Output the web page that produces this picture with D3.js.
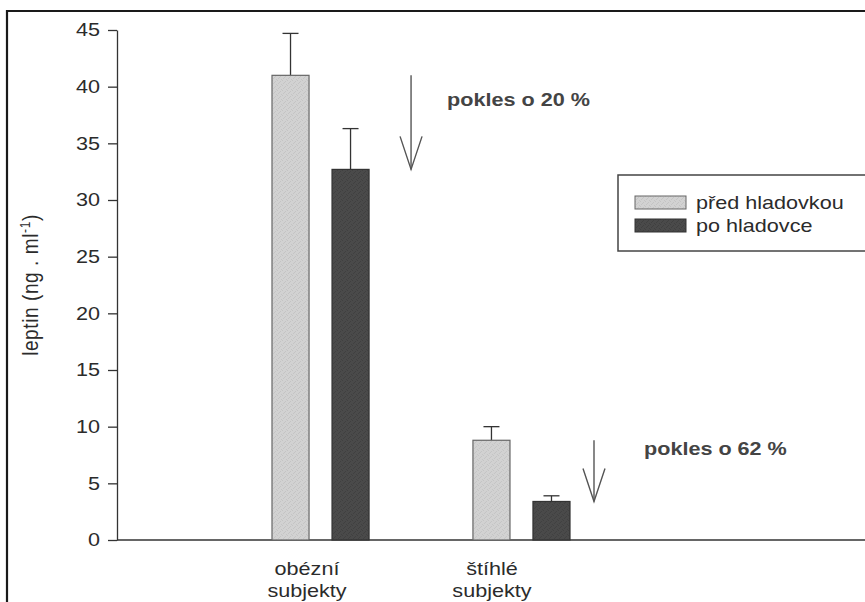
<!DOCTYPE html>
<html>
<head>
<meta charset="utf-8">
<script src="https://cdn.jsdelivr.net/npm/d3@7"></script>
<style>
  body { margin: 0; background: #fff; }
  svg { display: block; font-family: "Liberation Sans", Arial, sans-serif; }
</style>
</head>
<body>
<div id="chart"></div>
<script>
// Data
const categories = ['obézní subjekty', 'štíhlé subjekty'];
const categoryLines = [['obézní', 'subjekty'], ['štíhlé', 'subjekty']];
const seriesNames = ['před hladovkou', 'po hladovce'];
const beforeValues = [41.0, 8.8];
const afterValues = [32.7, 3.4];
const beforeErrTop = [44.7, 10.0];
const afterErrTop = [36.3, 3.9];
const dropLabels = ['pokles o 20 %', 'pokles o 62 %'];
const yTicks = [0, 5, 10, 15, 20, 25, 30, 35, 40, 45];

// layout (the scan is stretched horizontally, so text gets a x-scale)
const W = 865, H = 602;
const SX = 1.2;
const fontSize = 18;
const textColor = '#2b2b2b';
const labelShift = [35, 19];     // category label offset from group start
const arrowShift = [42, 24];     // arrow offset from group end
const noteShift = [[36, 31], [50, 15]];

const svg = d3.select('#chart').append('svg')
    .attr('width', W).attr('height', H);

// textures for the bars
const defs = svg.append('defs');
function texture(id, base, dots) {
    const p = defs.append('pattern').attr('id', id)
        .attr('width', 5).attr('height', 5).attr('patternUnits', 'userSpaceOnUse');
    p.append('rect').attr('width', 5).attr('height', 5).attr('fill', base);
    [[0, 0], [3, 1], [1, 3], [4, 4], [2, 2]].forEach(([x, y]) => {
        p.append('rect').attr('x', x).attr('y', y).attr('width', 1).attr('height', 1).attr('fill', dots);
    });
}
texture('texLight', '#d2d2d2', '#c4c4c4');
texture('texDark', '#4a4a4a', '#404040');

const fills = ['url(#texLight)', 'url(#texDark)'];
const strokes = ['#666', '#333'];

// frame of the scanned figure
svg.append('path')
    .attr('d', `M7,${H} L7,11 L${W},11`)
    .attr('fill', 'none').attr('stroke', '#1a1a1a').attr('stroke-width', 2.2);

// scales
const y = d3.scaleLinear().domain([0, 45]).range([540, 30]);
const x0 = d3.scaleBand().domain(categories).range([272, 570]).paddingInner(0.517).paddingOuter(0);
const x1 = d3.scaleBand().domain(seriesNames).range([0, x0.bandwidth()]).paddingInner(0.383).paddingOuter(0);

// y axis
const yAxis = svg.append('g')
    .attr('transform', 'translate(117,0)')
    .call(d3.axisLeft(y).tickValues(yTicks).tickSize(9).tickPadding(8).tickSizeOuter(0));
yAxis.select('.domain').attr('stroke', '#333').attr('stroke-width', 1.3);
yAxis.selectAll('.tick line').attr('stroke', '#333').attr('stroke-width', 1.3);
yAxis.selectAll('.tick text')
    .attr('x', null)
    .attr('transform', `translate(-17,0) scale(${SX},1)`)
    .attr('fill', textColor)
    .style('font-size', fontSize + 'px')
    .style('font-family', '"Liberation Sans", Arial, sans-serif');

// x axis baseline
svg.append('line')
    .attr('x1', 117).attr('x2', W)
    .attr('y1', y(0)).attr('y2', y(0))
    .attr('stroke', '#333').attr('stroke-width', 1.3);

// y label
svg.append('text')
    .attr('transform', `translate(38,285) scale(${SX},1) rotate(-90)`)
    .attr('text-anchor', 'middle')
    .attr('fill', textColor)
    .style('font-size', '19px')
    .style('letter-spacing', '0.6px')
    .call(t => {
        t.append('tspan').text('leptin (ng . ml');
        t.append('tspan').attr('dy', -7).style('font-size', '12px').text('-1');
        t.append('tspan').attr('dy', 7).text(')');
    });

// bars
const groups = svg.selectAll('.grp')
    .data(categories)
    .enter().append('g')
    .attr('transform', d => `translate(${x0(d)},0)`);

groups.each(function (cat, i) {
    const g = d3.select(this);
    const vals = [beforeValues[i], afterValues[i]];
    const errs = [beforeErrTop[i], afterErrTop[i]];
    seriesNames.forEach((s, j) => {
        const cx = x1(s) + x1.bandwidth() / 2;
        // error bar
        g.append('line')
            .attr('x1', cx).attr('x2', cx)
            .attr('y1', y(vals[j])).attr('y2', y(errs[j]))
            .attr('stroke', '#333').attr('stroke-width', 1.3);
        g.append('line')
            .attr('x1', cx - 8).attr('x2', cx + 8)
            .attr('y1', y(errs[j])).attr('y2', y(errs[j]))
            .attr('stroke', '#333').attr('stroke-width', 1.3);
        g.append('rect')
            .attr('x', x1(s))
            .attr('y', y(vals[j]))
            .attr('width', x1.bandwidth())
            .attr('height', y(0) - y(vals[j]))
            .attr('fill', fills[j])
            .attr('stroke', strokes[j])
            .attr('stroke-width', 1.2);
    });
});

// category labels
categories.forEach((cat, i) => {
    const cx = x0(cat) + labelShift[i];
    categoryLines[i].forEach((line, k) => {
        svg.append('text')
            .attr('transform', `translate(${cx},${575 + k * 22}) scale(${SX},1)`)
            .attr('text-anchor', 'middle')
            .attr('fill', textColor)
            .style('font-size', fontSize + 'px')
            .text(line);
    });
});

// drop arrows and notes
categories.forEach((cat, i) => {
    const ax = x0(cat) + x0.bandwidth() + arrowShift[i];
    const yTop = y(beforeValues[i]);
    const yBot = y(afterValues[i]);
    const arrow = svg.append('g').attr('stroke', '#555').attr('stroke-width', 1.4).attr('fill', 'none');
    arrow.append('line').attr('x1', ax).attr('x2', ax).attr('y1', yTop).attr('y2', yBot);
    arrow.append('path')
        .attr('d', `M${ax - 11},${yBot - 33} L${ax},${yBot} L${ax + 11},${yBot - 33}`);

    svg.append('text')
        .attr('transform', `translate(${ax + noteShift[i][0]},${yTop + noteShift[i][1]}) scale(${SX},1)`)
        .attr('fill', '#444')
        .style('font-size', fontSize + 'px')
        .style('font-weight', 'bold')
        .text(dropLabels[i]);
});

// legend
const legend = svg.append('g').attr('transform', 'translate(618,175)');
legend.append('rect')
    .attr('width', 260).attr('height', 76)
    .attr('fill', '#fff').attr('stroke', '#444').attr('stroke-width', 1.5);
seriesNames.forEach((s, j) => {
    const row = legend.append('g').attr('transform', `translate(17,${21 + j * 23})`);
    row.append('rect')
        .attr('width', 51).attr('height', 13)
        .attr('fill', fills[j]).attr('stroke', strokes[j]).attr('stroke-width', 1);
    row.append('text')
        .attr('transform', `translate(61,12.5) scale(${SX},1)`)
        .attr('fill', textColor)
        .style('font-size', fontSize + 'px')
        .text(s);
});
</script>
</body>
</html>
